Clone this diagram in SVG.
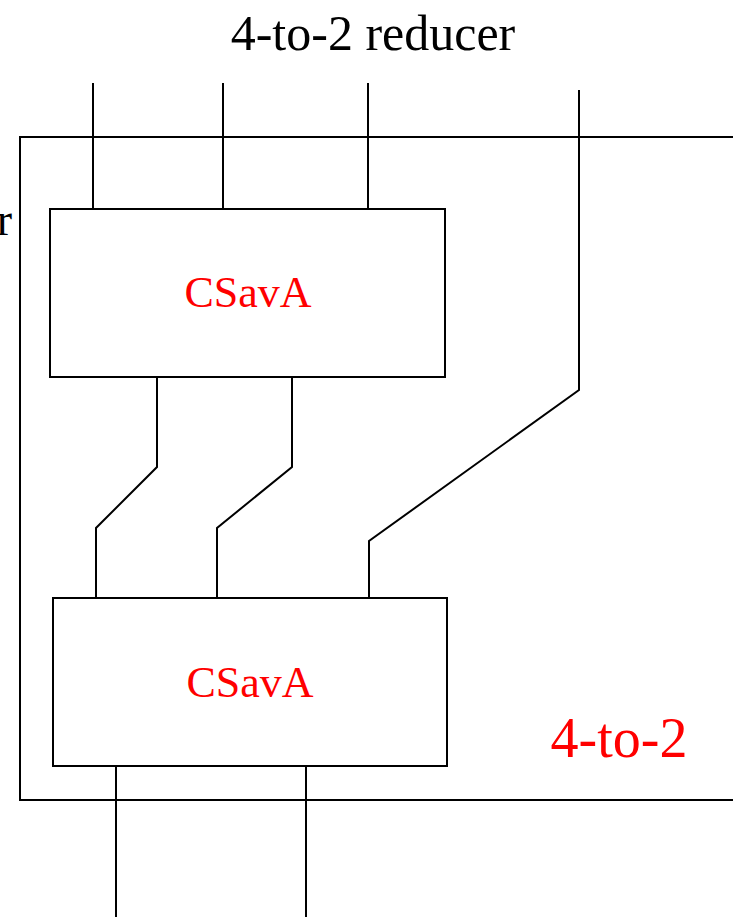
<svg xmlns="http://www.w3.org/2000/svg" width="733" height="917" viewBox="0 0 733 917">
<style>
.ln{fill:none;stroke:#000;stroke-width:2}
.box{fill:#fff;stroke:#000;stroke-width:2}
.red{fill:#f00;font-family:"Liberation Serif",serif}
.blk{fill:#000;font-family:"Liberation Serif",serif}
</style>
<rect width="733" height="917" fill="#fff"/>
<g id="outer">
<rect x="20" y="137" width="730" height="663" class="ln"/>
<text x="619" y="757" class="red" font-size="56" text-anchor="middle">4-to-2</text>
</g>
<text x="373" y="50" class="blk" font-size="50" text-anchor="middle">4-to-2 reducer</text>
<text x="12" y="235" class="blk" font-size="46" text-anchor="end">r</text>
<g id="connectors">
<path class="ln" d="M93,83V209M223,83V209M368,83V209"/>
<path class="ln" d="M579,90V390L369,541V598"/>
<path class="ln" d="M157,377V467L96,528V598"/>
<path class="ln" d="M292,377V467L217,528V598"/>
<path class="ln" d="M116,766V917M306,766V917"/>
</g>
<g id="csava1">
<rect x="50" y="209" width="395" height="168" class="box"/>
<text x="248" y="307" class="red" font-size="44" text-anchor="middle">CSavA</text>
</g>
<g id="csava2">
<rect x="53" y="598" width="394" height="168" class="box"/>
<text x="250" y="697" class="red" font-size="44" text-anchor="middle">CSavA</text>
</g>
</svg>
